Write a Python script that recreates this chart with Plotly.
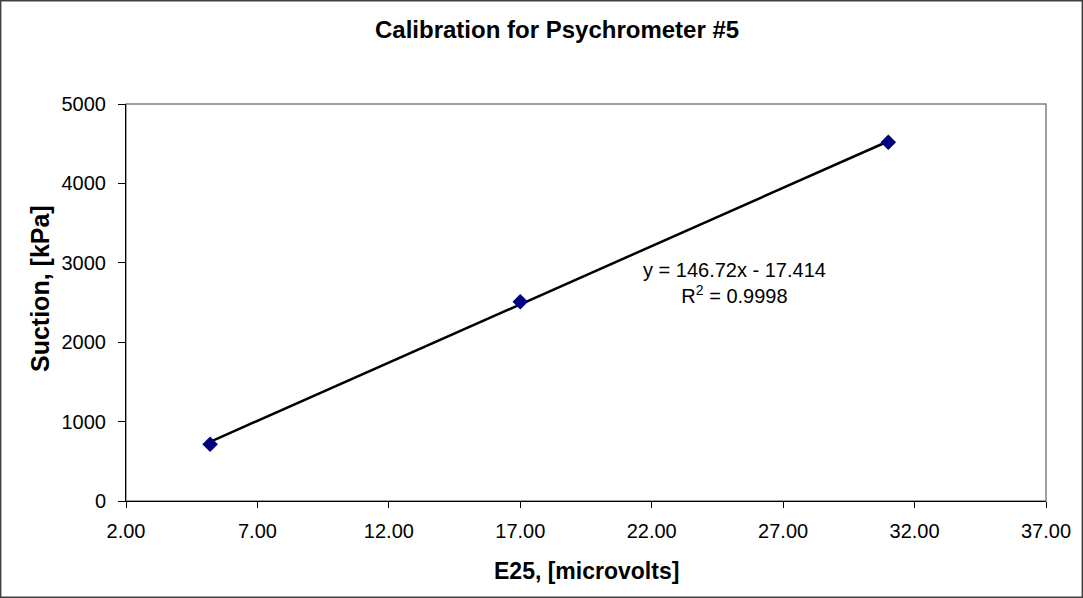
import plotly.graph_objects as go

# Data
e25 = [5.2, 17.0, 31.0]
suction = [714, 2510, 4518]
slope = 146.72
intercept = -17.414
r2 = 0.9998

title = "Calibration for Psychrometer #5"
x_title = "E25, [microvolts]"
y_title = "Suction, [kPa]"

W, H = 1083, 598
L, R, T, B = 126, 37, 104, 97
pw, ph = W - L - R, H - T - B

fig = go.Figure()

xmin, xmax = min(e25), max(e25)
fig.add_trace(go.Scatter(
    x=[xmin, xmax], y=[slope * xmin + intercept, slope * xmax + intercept],
    mode="lines", line=dict(color="black", width=2.5), showlegend=False, hoverinfo="skip"))
fig.add_trace(go.Scatter(
    x=e25, y=suction, mode="markers",
    marker=dict(symbol="diamond", size=12, color="#000080", line=dict(width=0)),
    showlegend=False))

font_family = "Liberation Sans, Arial, sans-serif"


def px(xp):
    return (xp - L) / pw


def py(yp):
    return (H - B - yp) / ph


fig.update_layout(
    width=W, height=H,
    margin=dict(l=L, r=R, t=T, b=B),
    paper_bgcolor="white", plot_bgcolor="white",
    font=dict(family=font_family, size=20, color="black"),
    showlegend=False,
)

fig.update_xaxes(
    range=[2, 37], tick0=2, dtick=5, tickformat=".2f",
    showgrid=False, zeroline=False,
    showline=True, linecolor="black", linewidth=1,
    ticks="outside", ticklen=6, tickcolor="black", ticklabelstandoff=6,
)
fig.update_yaxes(
    range=[0, 5000], dtick=1000,
    showgrid=False, zeroline=False,
    showline=True, linecolor="black", linewidth=1,
    ticks="outside", ticklen=7, tickcolor="black", ticklabelstandoff=8,
)

# plot area border (gray)
fig.add_shape(type="rect", xref="paper", yref="paper", x0=0, x1=1, y0=0, y1=1,
              line=dict(color="#808080", width=1.5), layer="below")
# outer chart border
fig.add_shape(type="rect", xref="paper", yref="paper",
              x0=px(0.7), x1=px(W - 0.7), y0=py(H - 0.7), y1=py(0.7),
              line=dict(color="#404040", width=1.4), layer="below")

# titles as annotations
fig.add_annotation(x=px(557), y=py(30), xref="paper", yref="paper",
                   text=f"<b>{title}</b>", showarrow=False,
                   xanchor="center", yanchor="middle", font=dict(size=24))
fig.add_annotation(x=px(586), y=py(571), xref="paper", yref="paper",
                   text=f"<b>{x_title}</b>", showarrow=False,
                   xanchor="center", yanchor="middle", font=dict(size=23))
fig.add_annotation(x=px(40), y=py(289), xref="paper", yref="paper",
                   text=f"<b>{y_title}</b>", showarrow=False, textangle=-90,
                   xanchor="center", yanchor="middle", font=dict(size=25))

fig.add_annotation(
    x=px(734), y=py(283), xref="paper", yref="paper",
    text=f"y = {slope}x - {abs(intercept)}<br>R<sup>2</sup> = {r2}",
    showarrow=False, align="center", xanchor="center", yanchor="middle",
    font=dict(size=20))

fig.write_html("out.html")
